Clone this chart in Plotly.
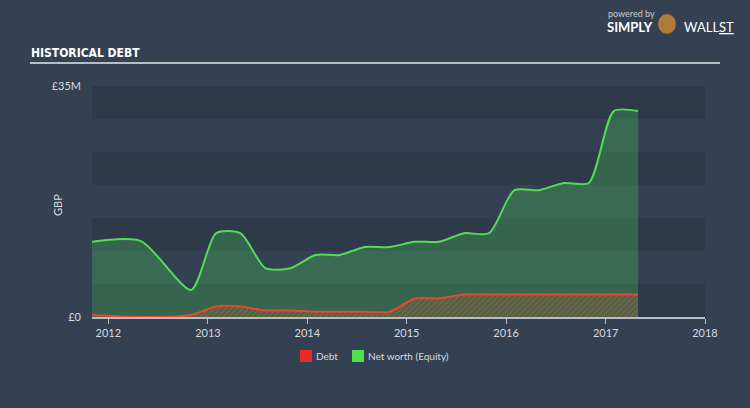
import plotly.graph_objects as go

# ---- data (GBP millions) ----
dates = ["2011-10-31", "2012-04-30", "2012-10-31", "2013-01-31", "2013-04-30",
         "2013-07-31", "2013-10-31", "2014-01-31", "2014-04-30", "2014-07-31",
         "2014-10-31", "2015-01-31", "2015-04-30", "2015-07-31", "2015-10-31",
         "2016-01-31", "2016-04-30", "2016-07-31", "2016-10-31", "2017-01-31",
         "2017-04-30"]
equity = [11.4, 11.5, 4.1, 12.7, 12.7, 7.4, 7.4, 9.4, 9.4, 10.6, 10.6,
          11.4, 11.4, 12.7, 12.7, 19.2, 19.2, 20.3, 20.3, 31.2, 31.2]
debt = [0.3, 0.0, 0.3, 1.6, 1.6, 1.0, 1.0, 0.8, 0.8, 0.8, 0.8,
        2.8, 2.8, 3.4, 3.4, 3.4, 3.4, 3.4, 3.4, 3.4, 3.4]
year_ticks = ["2012-01-01", "2013-01-01", "2014-01-01", "2015-01-01",
              "2016-01-01", "2017-01-01", "2018-01-01"]
year_labels = ["2012", "2013", "2014", "2015", "2016", "2017", "2018"]
y_ticks = [0, 35]
y_labels = ["£0", "£35M"]
legend_names = ["Debt", "Net worth (Equity)"]
legend_colors = ["#e82a2a", "#4fe04f"]

BG = "#334152"
BAND = "#2e3a4a"
GREEN = "#4fe04f"
RED = "#e8482c"
TXT = "#d6dae0"
FONT = "Lato"

L, R, T, B = 92, 45, 86, 91
W, H = 750, 408
PW, PH = W - L - R, H - T - B


def px(x):
    return (x - L) / PW


def py(y):
    return (H - B - y) / PH


fig = go.Figure()

fig.add_trace(go.Scatter(
    x=dates, y=equity, mode="lines", line=dict(color=GREEN, width=2, shape="spline", smoothing=0.7),
    fill="tozeroy", fillcolor="rgba(76,200,90,0.30)", showlegend=False, hoverinfo="skip"))

fig.add_trace(go.Scatter(
    x=dates, y=debt, mode="lines", line=dict(color=RED, width=2, shape="spline", smoothing=0.7),
    fill="tozeroy", fillcolor="rgba(0,0,0,0)",
    fillpattern=dict(shape="/", fgcolor="rgba(220,90,50,0.75)", bgcolor="rgba(120,100,70,0.25)",
                     size=4, solidity=0.45),
    showlegend=False, hoverinfo="skip"))

shapes = []
for lo in (0, 10, 20, 30):
    shapes.append(dict(type="rect", xref="paper", yref="y", x0=0, x1=1, y0=lo, y1=lo + 5,
                       fillcolor=BAND, line=dict(width=0), layer="below"))
# header underline
shapes.append(dict(type="line", xref="paper", yref="paper", x0=px(30), x1=px(720),
                   y0=py(63), y1=py(63), line=dict(color="#b8bec6", width=2)))
# mascot placeholder
shapes.append(dict(type="circle", xref="paper", yref="paper", x0=px(658), x1=px(676),
                   y0=py(34), y1=py(14), fillcolor="#b07a3a", line=dict(width=0)))

annotations = [
    dict(text="<b>HISTORICAL DEBT</b>", x=px(29), y=py(53), xref="paper", yref="paper",
         xanchor="left", yanchor="middle", showarrow=False,
         font=dict(family="DejaVu Sans Condensed", size=12, color="#ffffff")),
    dict(text="powered by", x=px(606), y=py(14), xref="paper", yref="paper",
         xanchor="left", yanchor="middle", showarrow=False,
         font=dict(family=FONT, size=9, color="#c8ccd2")),
    dict(text="<b>SIMPLY</b>", x=px(605), y=py(27), xref="paper", yref="paper",
         xanchor="left", yanchor="middle", showarrow=False,
         font=dict(family=FONT, size=13, color="#ffffff")),
    dict(text="WALL<u>ST</u>", x=px(682), y=py(27), xref="paper", yref="paper",
         xanchor="left", yanchor="middle", showarrow=False,
         font=dict(family=FONT, size=13, color="#ffffff")),
    dict(text="GBP", x=px(57), y=py(205), xref="paper", yref="paper", textangle=-90,
         xanchor="center", yanchor="middle", showarrow=False,
         font=dict(family=FONT, size=11, color=TXT)),
]

# manual legend
leg_x = [300, 352]
for name, col, x0 in zip(legend_names, legend_colors, leg_x):
    shapes.append(dict(type="rect", xref="paper", yref="paper", x0=px(x0), x1=px(x0 + 12),
                       y0=py(362), y1=py(350), fillcolor=col, line=dict(width=0)))
    annotations.append(dict(text=name, x=px(x0 + 14), y=py(356), xref="paper", yref="paper",
                            xanchor="left", yanchor="middle", showarrow=False,
                            font=dict(family=FONT, size=10, color=TXT)))

fig.update_layout(
    width=W, height=H,
    margin=dict(l=L, r=R, t=T, b=B),
    paper_bgcolor=BG, plot_bgcolor=BG,
    font=dict(family=FONT, size=11, color=TXT),
    shapes=shapes, annotations=annotations,
    showlegend=False,
    xaxis=dict(type="date", range=["2011-11-02", "2018-01-01"], tickvals=year_ticks,
               ticktext=year_labels, ticks="outside", ticklen=5, tickcolor="#b8bec6",
               showline=True, linecolor="#b8bec6", linewidth=2, showgrid=False,
               zeroline=False, tickfont=dict(size=11, color=TXT)),
    yaxis=dict(range=[0, 35], tickvals=y_ticks, ticktext=y_labels, showgrid=False,
               zeroline=False, showline=False, ticks="", ticklabelstandoff=10,
               tickfont=dict(size=11, color=TXT)),
)

fig.write_html("out.html")
